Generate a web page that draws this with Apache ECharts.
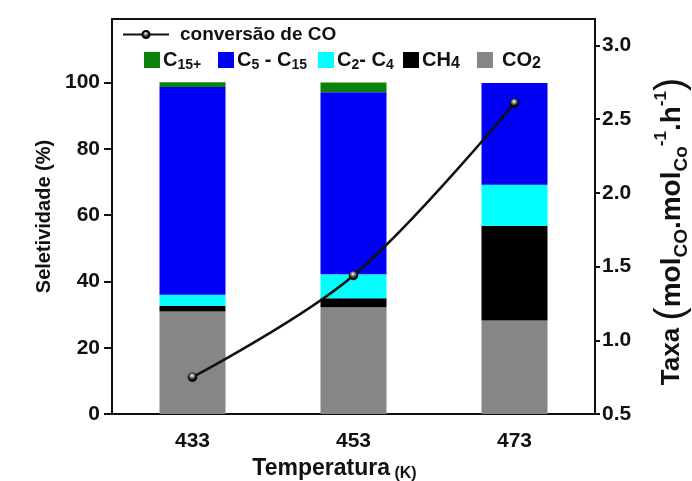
<!DOCTYPE html>
<html>
<head>
<meta charset="utf-8">
<script src="https://cdn.jsdelivr.net/npm/echarts@6/dist/echarts.min.js"></script>
<style>
html, body { margin: 0; padding: 0; background: #fff; }
#chart { width: 692px; height: 481px; }
</style>
</head>
<body>
<div id="chart"></div>
<script>
// Reaction temperatures (K)
const temperatures = ['433', '453', '473'];

// Product selectivity (%), stacked from bottom to top
const co2 = [30.9, 32.2, 28.2];
const ch4 = [1.8, 2.7, 28.6];
const c2c4 = [3.3, 7.3, 12.4];
const c5c15 = [62.7, 54.9, 30.7];
const c15plus = [1.4, 2.9, 0];

// CO conversion rate (mol_CO . mol_Co^-1 . h^-1)
const conversion = [0.75, 1.44, 2.61];

// Tick values for both value axes
const selectivityTicks = [0, 20, 40, 60, 80, 100];
const rateTicks = [0.5, 1.0, 1.5, 2.0, 2.5, 3.0];

const FONT = '"Liberation Sans", Arial, sans-serif';
const INK = '#111';

const colors = {
  co2: '#868686',
  ch4: '#000000',
  c2c4: '#00ffff',
  c5c15: '#0000f6',
  c15plus: '#0b800b'
};

const legendRich = {
  m: { fontSize: 20, fontWeight: 'bold', fontFamily: FONT, color: INK, lineHeight: 24 },
  s: { fontSize: 14, fontWeight: 'bold', fontFamily: FONT, color: INK, lineHeight: 14, verticalAlign: 'bottom' },
  b: { fontSize: 16, fontWeight: 'bold', fontFamily: FONT, color: INK, lineHeight: 16, verticalAlign: 'bottom' }
};

const legendLabels = {
  'C15+': '{m|C}{s|15+}',
  'C5 - C15': '{m|C}{s|5}{m| - C}{s|15}',
  'C2- C4': '{m|C}{s|2}{m|- C}{s|4}',
  'CH4': '{m|CH}{b|4}',
  'CO2': '{m|CO}{b|2}'
};

function squareLegend(name, left, gap) {
  return {
    data: [name],
    left: left,
    top: 50,
    padding: 0,
    icon: 'rect',
    itemWidth: 16,
    itemHeight: 16,
    selectedMode: false,
    formatter: n => legendLabels[n],
    textStyle: { rich: legendRich, padding: [0, 0, 0, gap] }
  };
}

const chart = echarts.init(document.getElementById('chart'), null, { renderer: 'canvas' });

chart.setOption({
  animation: false,
  backgroundColor: '#fff',
  grid: {
    left: 112, right: 97, top: 19, bottom: 67,
    outerBoundsMode: 'none',
    containLabel: false,
    show: true, borderColor: INK, borderWidth: 2, backgroundColor: 'transparent'
  },
  legend: [
    {
      data: ['conversão de CO'],
      left: 122,
      top: 25,
      padding: 0,
      itemWidth: 46,
      itemHeight: 9,
      selectedMode: false,
      textStyle: { fontSize: 19, fontWeight: 'bold', fontFamily: FONT, color: INK, padding: [0, 0, 0, 6] }
    },
    squareLegend('C15+', 144, -2),
    squareLegend('C5 - C15', 218, -2),
    squareLegend('C2- C4', 318, -2),
    squareLegend('CH4', 403, -2),
    squareLegend('CO2', 477, 4)
  ],
  xAxis: {
    type: 'category',
    data: temperatures,
    axisLine: { lineStyle: { color: INK, width: 2 } },
    axisTick: { alignWithLabel: true, length: 7, lineStyle: { color: INK, width: 2 } },
    axisLabel: { fontSize: 21, fontWeight: 'bold', fontFamily: FONT, color: INK, margin: 17 },
    name: '{a|Temperatura}{k| (K)}',
    nameLocation: 'middle',
    nameGap: 28,
    nameTextStyle: {
      padding: [0, 38, 0, 0],
      rich: {
        a: { fontSize: 23, fontWeight: 'bold', fontFamily: FONT, color: INK, lineHeight: 26 },
        k: { fontSize: 16, fontWeight: 'bold', fontFamily: FONT, color: INK, lineHeight: 22, verticalAlign: 'bottom' }
      }
    }
  },
  yAxis: [
    {
      type: 'value',
      min: 0,
      max: 119.2,
      position: 'left',
      splitLine: { show: false },
      axisLine: { show: true, lineStyle: { color: INK, width: 2 } },
      axisTick: { show: true, length: 8, customValues: selectivityTicks, lineStyle: { color: INK, width: 2 } },
      axisLabel: { customValues: selectivityTicks, fontSize: 21, fontWeight: 'bold', fontFamily: FONT, color: INK, margin: 12 },
      name: 'Seletividade (%)',
      nameLocation: 'middle',
      nameGap: 55,
      nameTextStyle: { fontSize: 20, fontWeight: 'bold', fontFamily: FONT, color: INK }
    },
    {
      type: 'value',
      min: 0.5,
      max: 3.18,
      position: 'right',
      splitLine: { show: false },
      axisLine: { show: true, lineStyle: { color: INK, width: 2 } },
      axisTick: { show: true, length: 5, customValues: rateTicks, lineStyle: { color: INK, width: 2 } },
      axisLabel: {
        customValues: rateTicks,
        formatter: v => v.toFixed(1),
        fontSize: 21, fontWeight: 'bold', fontFamily: FONT, color: INK, margin: 7
      },
      name: '{t|Taxa }{p|(}{m|mol}{s|CO}{m|.mol}{s|Co}{u|-1}{m|.h}{u|-1}{p|)}',
      nameLocation: 'middle',
      nameGap: 58,
      nameTextStyle: {
        padding: [0, 30, 0, 0],
        rich: {
          t: { fontSize: 26, fontWeight: 'bold', fontFamily: FONT, color: INK, lineHeight: 34 },
          p: { fontSize: 40, fontFamily: FONT, color: INK, lineHeight: 38 },
          m: { fontSize: 28, fontWeight: 'bold', fontFamily: FONT, color: INK, lineHeight: 34 },
          s: { fontSize: 19, fontWeight: 'bold', fontFamily: FONT, color: INK, lineHeight: 17, verticalAlign: 'bottom' },
          u: { fontSize: 17, fontWeight: 'bold', fontFamily: FONT, color: INK, lineHeight: 16, verticalAlign: 'top' }
        }
      }
    }
  ],
  series: [
    { name: 'CO2', type: 'bar', stack: 'sel', data: co2, barWidth: 66, itemStyle: { color: colors.co2 } },
    { name: 'CH4', type: 'bar', stack: 'sel', data: ch4, barWidth: 66, itemStyle: { color: colors.ch4 } },
    { name: 'C2- C4', type: 'bar', stack: 'sel', data: c2c4, barWidth: 66, itemStyle: { color: colors.c2c4 } },
    { name: 'C5 - C15', type: 'bar', stack: 'sel', data: c5c15, barWidth: 66, itemStyle: { color: colors.c5c15 } },
    { name: 'C15+', type: 'bar', stack: 'sel', data: c15plus, barWidth: 66, itemStyle: { color: colors.c15plus } },
    {
      name: 'conversão de CO',
      type: 'line',
      yAxisIndex: 1,
      data: conversion,
      smooth: 0.35,
      symbol: 'circle',
      symbolSize: 9,
      z: 5,
      lineStyle: { color: INK, width: 2.5 },
      itemStyle: {
        color: {
          type: 'radial', x: 0.45, y: 0.35, r: 0.65,
          colorStops: [
            { offset: 0, color: '#ffffff' },
            { offset: 0.35, color: '#777777' },
            { offset: 0.7, color: '#000000' },
            { offset: 1, color: '#000000' }
          ]
        },
        borderColor: '#000', borderWidth: 0.5
      }
    }
  ]
});
</script>
</body>
</html>
